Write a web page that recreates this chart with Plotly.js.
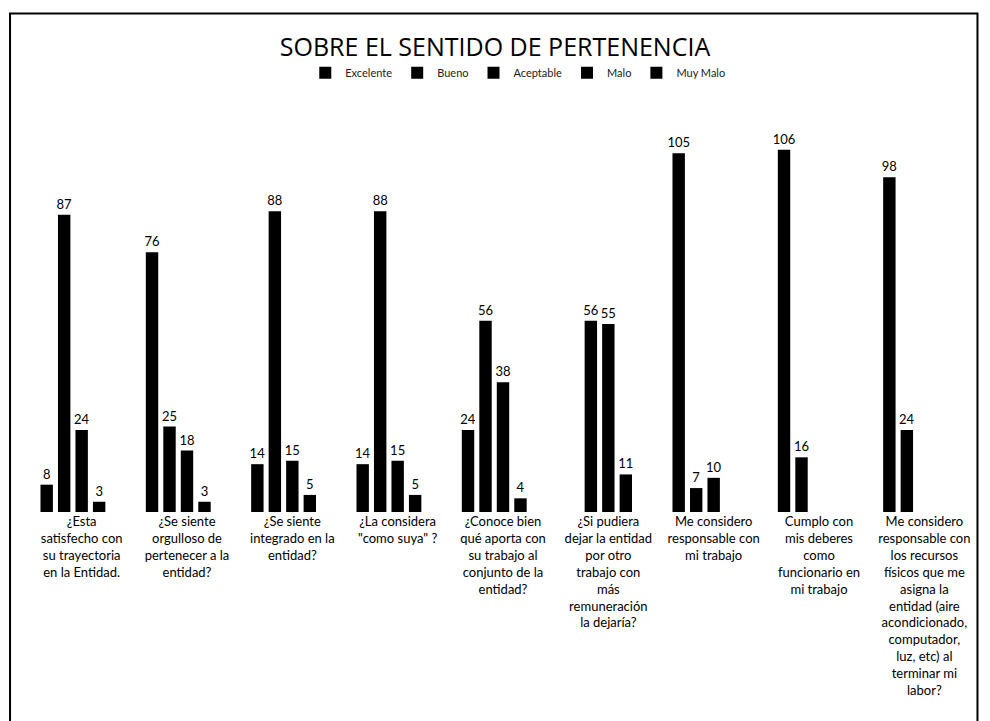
<!DOCTYPE html>
<html>
<head>
<meta charset="utf-8">
<script src="https://cdn.plot.ly/plotly-3.0.1.min.js"></script>
<style>
  html, body { margin: 0; padding: 0; background: #ffffff; }
  #chart { width: 990px; height: 721px; }
</style>
</head>
<body>
<div id="chart"></div>
<script>
// Categories (x tick labels)
var categories = [
  "¿Esta<br>satisfecho con<br>su trayectoria<br>en la Entidad.",
  "¿Se siente<br>orgulloso de<br>pertenecer a la<br>entidad?",
  "¿Se siente<br>integrado en la<br>entidad?",
  "¿La considera<br>\"como suya\" ?",
  "¿Conoce bien<br>qué aporta con<br>su trabajo al<br>conjunto de la<br>entidad?",
  "¿Si pudiera<br>dejar la entidad<br>por otro<br>trabajo con<br>más<br>remuneración<br>la dejaría?",
  "Me considero<br>responsable con<br>mi trabajo",
  "Cumplo con<br>mis deberes<br>como<br>funcionario en<br>mi trabajo",
  "Me considero<br>responsable con<br>los recursos<br>físicos que me<br>asigna la<br>entidad (aire<br>acondicionado,<br>computador,<br>luz, etc) al<br>terminar mi<br>labor?"
];

// Series names
var seriesNames = ["Excelente", "Bueno", "Aceptable", "Malo", "Muy Malo"];

// Series values (null = no bar)
var excelente = [8, 76, 14, 14, 24, null, 105, 106, 98];
var bueno     = [87, 25, 88, 88, 56, 56, 7, 16, 24];
var aceptable = [24, 18, 15, 15, 38, 55, 10, null, null];
var malo      = [3, 3, 5, 5, 4, 11, null, null, null];
var muyMalo   = [null, null, null, null, null, null, null, null, null];

var seriesValues = [excelente, bueno, aceptable, malo, muyMalo];

var traces = seriesNames.map(function (name, i) {
  var vals = seriesValues[i];
  return {
    type: "bar",
    name: name,
    x: categories,
    y: vals,
    text: vals.map(function (v) { return v === null ? "" : String(v); }),
    textposition: "outside",
    constraintext: "none",
    cliponaxis: false,
    textfont: { family: "Lato, 'DejaVu Sans', sans-serif", size: 13, color: "#000000" },
    marker: { color: "#000000", line: { width: 0 } },
    hoverinfo: "x+y+name"
  };
});

var layout = {
  width: 990,
  height: 721,
  paper_bgcolor: "#ffffff",
  plot_bgcolor: "#ffffff",
  margin: { l: 29, r: 13, t: 102, b: 209 },
  barmode: "group",
  bargap: 0.17,
  bargroupgap: 0.29,
  title: {
    text: "SOBRE EL SENTIDO DE PERTENENCIA",
    font: { family: "'Open Sans', Lato, sans-serif", size: 25, color: "#000000" },
    x: 0.500, xref: "container", xanchor: "center",
    y: 0.935, yref: "container", yanchor: "middle"
  },
  showlegend: true,
  legend: {
    orientation: "h",
    x: 0.523, xref: "container", xanchor: "center",
    y: 0.899, yref: "container", yanchor: "middle",
    font: { family: "Lato, 'Open Sans', sans-serif", size: 11, color: "#222222" },
    itemwidth: 30,
    traceorder: "normal"
  },
  xaxis: {
    type: "category",
    showgrid: false,
    zeroline: false,
    showline: false,
    ticks: "",
    tickangle: 0,
    automargin: false,
    tickfont: { family: "Lato, 'Open Sans', sans-serif", size: 13, color: "#000000" }
  },
  yaxis: {
    range: [0, 120],
    showgrid: false,
    zeroline: false,
    showline: false,
    showticklabels: false,
    ticks: ""
  },
  shapes: [
    {
      type: "rect",
      xref: "paper", yref: "paper",
      x0: -0.02, x1: 1.0005,
      y0: -0.53, y1: 1.216,
      line: { color: "#000000", width: 2 },
      fillcolor: "rgba(0,0,0,0)",
      layer: "below"
    }
  ]
};

Plotly.newPlot("chart", traces, layout, { displayModeBar: false, responsive: false });
</script>
</body>
</html>
